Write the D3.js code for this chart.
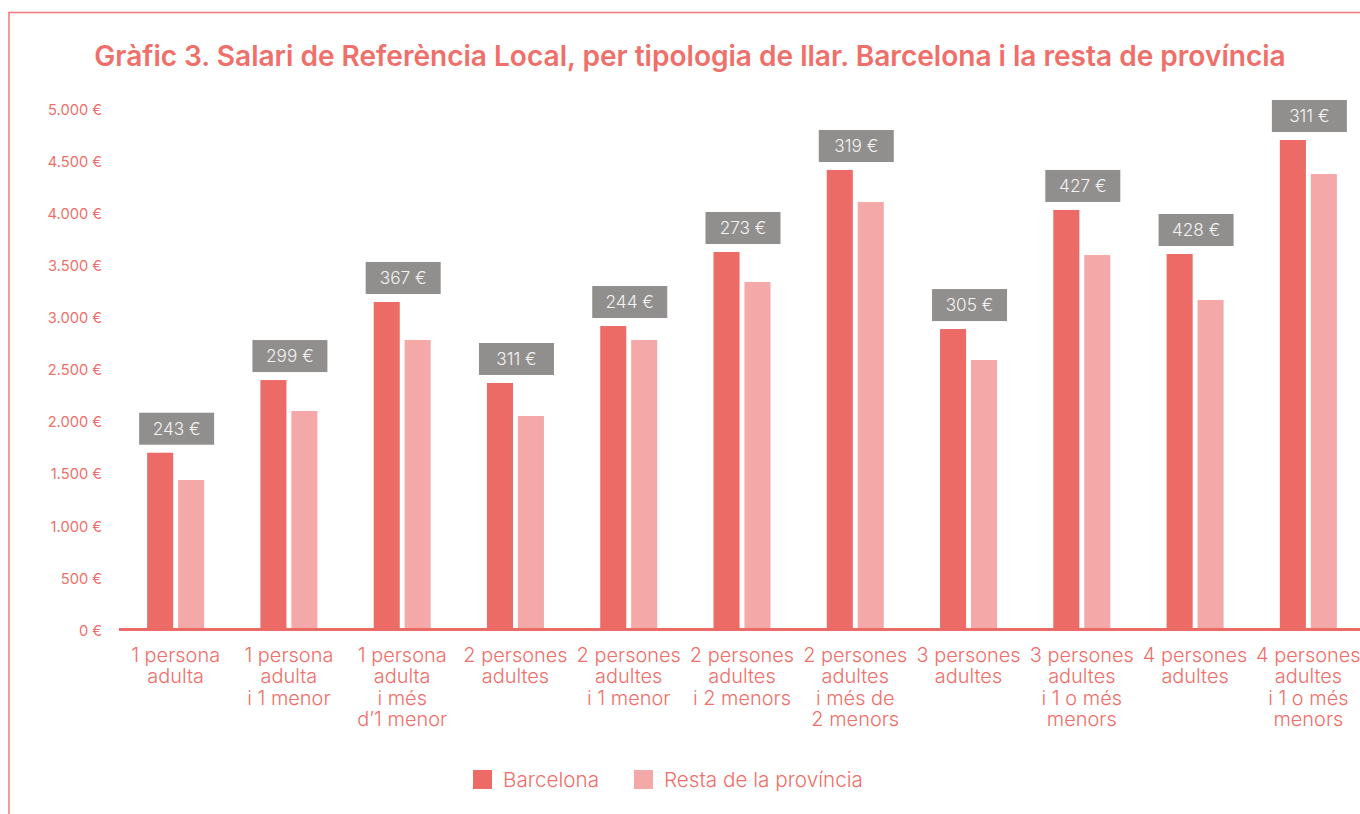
<!DOCTYPE html>
<html><head><meta charset="utf-8">
<script src="https://cdn.jsdelivr.net/npm/d3@7"></script>
<style>body{margin:0;background:#fff}svg{display:block}</style>
</head><body>
<script>
const categories = [
  ["1 persona","adulta"],
  ["1 persona","adulta","i 1 menor"],
  ["1 persona","adulta","i més","d’1 menor"],
  ["2 persones","adultes"],
  ["2 persones","adultes","i 1 menor"],
  ["2 persones","adultes","i 2 menors"],
  ["2 persones","adultes","i més de","2 menors"],
  ["3 persones","adultes"],
  ["3 persones","adultes","i 1 o més","menors"],
  ["4 persones","adultes"],
  ["4 persones","adultes","i 1 o més","menors"]
];
const barcelona = [1703, 2401, 3151, 2373, 2920, 3631, 4419, 2891, 4035, 3612, 4707];
const resta     = [1441, 2104, 2786, 2056, 2786, 3343, 4111, 2594, 3602, 3170, 4380];
const diffLabels = ["243 €","299 €","367 €","311 €","244 €","273 €","319 €","305 €","427 €","428 €","311 €"];
const yTicks = [0,500,1000,1500,2000,2500,3000,3500,4000,4500,5000];
const seriesNames = ["Barcelona","Resta de la província"];
const title = "Gràfic 3. Salari de Referència Local, per tipologia de llar. Barcelona i la resta de província";

const W = 1360, H = 814;
const C1 = "#ec6b66", C2 = "#f4a9a8", TXT = "#ef6f6a", GREY = "#918f8d";
const FONT = "Inter, 'Open Sans', sans-serif";

const svg = d3.select("body").append("svg").attr("width", W).attr("height", H);

// frame
svg.append("path").attr("d", `M9,${H} L9,12.5 L${W},12.5`).attr("fill","none")
  .attr("stroke", "#f07874").attr("stroke-width", 1.5);

function fitSize(sample, targetW, base, weight) {
  const t = svg.append("text").attr("font-family", FONT).attr("font-size", base)
    .attr("font-weight", weight || 400).text(sample);
  const w = t.node().getComputedTextLength(); t.remove();
  return base * targetW / w;
}

svg.append("text").attr("x", 690).attr("y", 66).attr("text-anchor","middle")
  .attr("font-family", FONT).attr("font-weight", 600).attr("font-size", fitSize(title, 1192, 24, 600))
  .attr("fill", TXT).text(title);

const tickSize = fitSize("5.000 €", 54, 14, 400);
const catSize = fitSize("1 persona", 89, 17, 300);
const legSize = fitSize("Resta de la província", 199, 18, 300);
const boxSize = fitSize("243 €", 48, 16, 300);

const y = d3.scaleLinear().domain([0,5000]).range([630, 109.5]);
const x = d3.scaleBand().domain(d3.range(categories.length)).range([119, 1365]).padding(0);
const xs = d3.scaleBand().domain([0,1]).range([-28.5, 28.5]).paddingInner(9/57).paddingOuter(0);

// y axis labels
const fmt = d3.formatLocale({decimal:",", thousands:".", grouping:[3], currency:["","€"]}).format(",");
const yAxis = d3.axisLeft(y).tickValues(yTicks).tickSize(0).tickPadding(0)
  .tickFormat(d => fmt(d) + " €");
const ga = svg.append("g").attr("transform","translate(102,0)").call(yAxis);
ga.select(".domain").remove();
ga.selectAll("text").attr("font-family", FONT).attr("font-size", tickSize).attr("fill", TXT).attr("dy","0.35em");

// bars
const g = svg.append("g");
categories.forEach((c,i) => {
  const cx = x(i) + x.bandwidth()/2;
  [barcelona[i], resta[i]].forEach((v,s) => {
    g.append("rect").attr("x", cx + xs(s)).attr("width", xs.bandwidth())
      .attr("y", y(v)).attr("height", y(0) - y(v)).attr("fill", s ? C2 : C1);
  });
  const top = y(Math.max(barcelona[i], resta[i]));
  g.append("rect").attr("x", cx - 36.5).attr("y", top - 40).attr("width", 75).attr("height", 32).attr("fill", GREY);
  g.append("text").attr("x", cx + 1).attr("y", top - 24).attr("dy","0.36em").attr("text-anchor","middle")
    .attr("font-family", FONT).attr("font-weight", 300).attr("font-size", boxSize).attr("fill", "#f3f3f3").text(diffLabels[i]);
  const t = g.append("text").attr("text-anchor","middle").attr("font-family", FONT)
    .attr("font-weight", 300).attr("font-size", catSize).attr("fill", TXT);
  c.forEach((line,k) => t.append("tspan").attr("x", cx).attr("y", 655 + k*21.5).attr("dy","0.35em").text(line));
});

// baseline
svg.append("line").attr("x1",119).attr("x2",W).attr("y1",y(0)-0.5).attr("y2",y(0)-0.5)
  .attr("stroke", C1).attr("stroke-width", 3);

// legend
const leg = svg.append("g");
[[473,503],[634,664]].forEach((p,s) => {
  leg.append("rect").attr("x", p[0]).attr("y", 770).attr("width", 19).attr("height", 19).attr("fill", s ? C2 : C1);
  leg.append("text").attr("x", p[1]).attr("y", 780).attr("dy","0.35em").attr("font-family", FONT)
    .attr("font-weight", 300).attr("font-size", legSize).attr("fill", TXT).text(seriesNames[s]);
});
</script>
</body></html>
